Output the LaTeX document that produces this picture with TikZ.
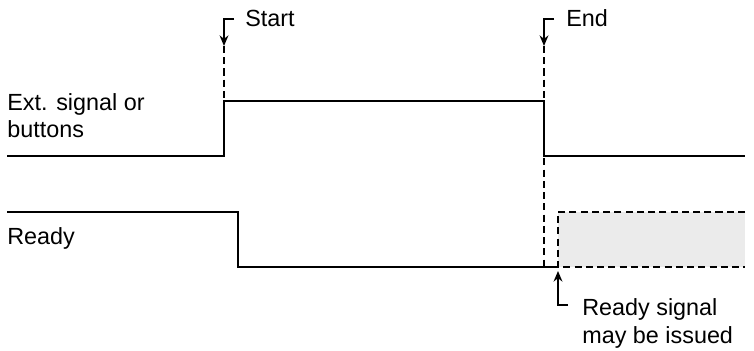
\documentclass[tikz,border=0pt]{standalone}
\usepackage{fontspec}
\setmainfont{Liberation Sans}
\usetikzlibrary{arrows.meta,calc}
\definecolor{winfill}{HTML}{EBEBEB}

\begin{document}
\begin{tikzpicture}[x=0.02cm, y=-0.02cm, >={Stealth[length=6pt,width=5pt]},
  wave/.style={line width=1.1pt},
  guide/.style={line width=1.1pt, dash pattern=on 4pt off 2.4pt},
  lbl/.style={font=\fontsize{13.3}{15.8}\selectfont, inner sep=0pt, align=left}]

\useasboundingbox (0,0) rectangle (754,351);

% Ext. signal or buttons
\draw[wave] (7,156) -- (224,156) -- (224,101) -- (544,101) -- (544,156) -- (745,156);

% Ready
\draw[wave] (7,212) -- (238,212) -- (238,267) -- (558,267);

% window where Ready may come back
\fill[winfill] (558,212) rectangle (745,267);
\draw[guide] (745,212) -- (558,212) -- (558,267) -- (745,267);

% labels (base of a two-line node is its last line)
\node[lbl, anchor=base west] (lext) at (7,138) {Ext. signal or\\buttons};
\node[lbl, anchor=base west] (lready) at (7,245) {Ready};
\node[lbl, anchor=base west] (lstart) at (245,27) {Start};
\node[lbl, anchor=base west] (lend) at (566,27) {End};
\node[lbl, anchor=base west] (lissued) at (582,343) {Ready signal\\may be issued};

% markers
\coordinate (sdn) at (224,46);
\coordinate (edn) at (544,46);
\coordinate (rup) at (558,271);

\draw[wave,->] ($(lstart.west)+(-11,0)$) -| (sdn);
\draw[guide] (sdn) -- (224,101);

\draw[wave,->] ($(lend.west)+(-12,0)$) -| (edn);
\draw[guide] (edn) -- (544,267);

\draw[wave,->] ($(lissued.north west)+(-14,7)$) -| (rup);

\end{tikzpicture}
\end{document}
